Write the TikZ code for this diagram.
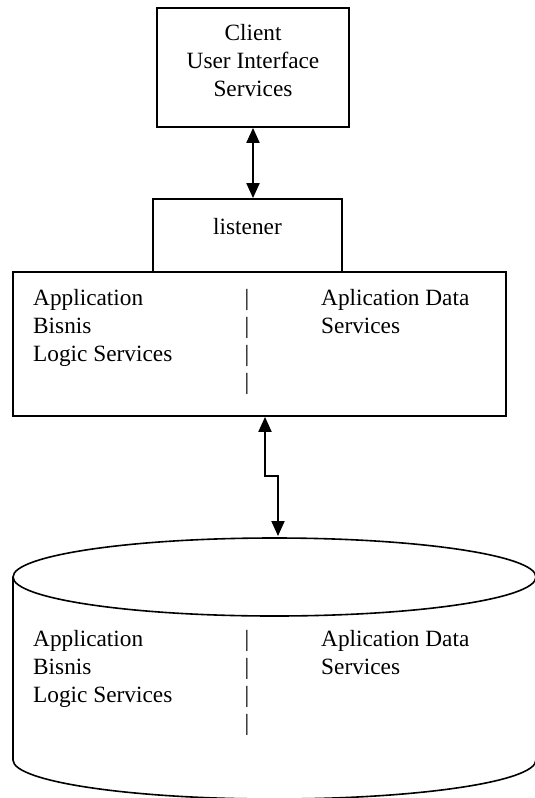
\documentclass[tikz,border=0pt]{standalone}
\usepackage{fontspec}
\setmainfont{Liberation Serif}
\usetikzlibrary{arrows.meta}

\tikzset{
  boxframe/.style={draw=black, line width=1.8pt, fill=white, inner sep=0pt},
  label text/.style={inner sep=0pt, font=\fontsize{23.3}{28}\selectfont},
  dbl/.style={line width=2pt,
    {Triangle[width=13pt,length=15pt]}-{Triangle[width=13pt,length=15pt]}},
  dbline/.style={draw=black, line width=1.6pt}
}

\begin{document}
\begin{tikzpicture}[x=1pt, y=-1pt]
  \useasboundingbox (0,0) rectangle (535,798);

  % client tier (multi-line labels are anchored at the last baseline)
  \node[boxframe, minimum width=192pt, minimum height=119pt] (client) at (253,67.5) {};
  \node[label text, align=center, anchor=base] (clienttxt) at (253,96)
    {Client\\User Interface\\Services};

  % listener sitting on the application server
  \node[boxframe, minimum width=189pt, minimum height=73pt] (listener) at (247.5,235.5) {};
  \node[label text, anchor=base] (listenertxt) at (247.5,234) {listener};

  % application server
  \node[boxframe, minimum width=493pt, minimum height=144pt] (app) at (259.5,344) {};
  \node[label text, align=left, anchor=base west] (appleft) at (33,361)
    {Application\\Bisnis\\Logic Services};
  \node[label text, align=center, anchor=base] (appbar) at (247,389)
    {|\\|\\|\\|};
  \node[label text, align=left, anchor=base west] (appright) at (321,333)
    {Aplication Data\\Services};

  % database cylinder
  \draw[dbline, fill=white] (13,577) -- (13,760)
    arc[start angle=180, end angle=360, x radius=261.5pt, y radius=39pt]
    -- (536,577);
  \draw[dbline] (274.5,577) ellipse [x radius=261.5pt, y radius=39pt];
  \node[label text, align=left, anchor=base west] (dbleft) at (33,702)
    {Application\\Bisnis\\Logic Services};
  \node[label text, align=center, anchor=base] (dbbar) at (247,730)
    {|\\|\\|\\|};
  \node[label text, align=left, anchor=base west] (dbright) at (321,674)
    {Aplication Data\\Services};

  % connectors
  \draw[dbl] (client.south) -- (client.south |- listener.north);

  \coordinate (kneeA) at (265,476);
  \coordinate (kneeB) at (278,476);
  \coordinate (dbtop) at (278,536);
  \draw[dbl] (kneeA |- app.south) -- (kneeA) -- (kneeB) -- (dbtop);
\end{tikzpicture}
\end{document}
